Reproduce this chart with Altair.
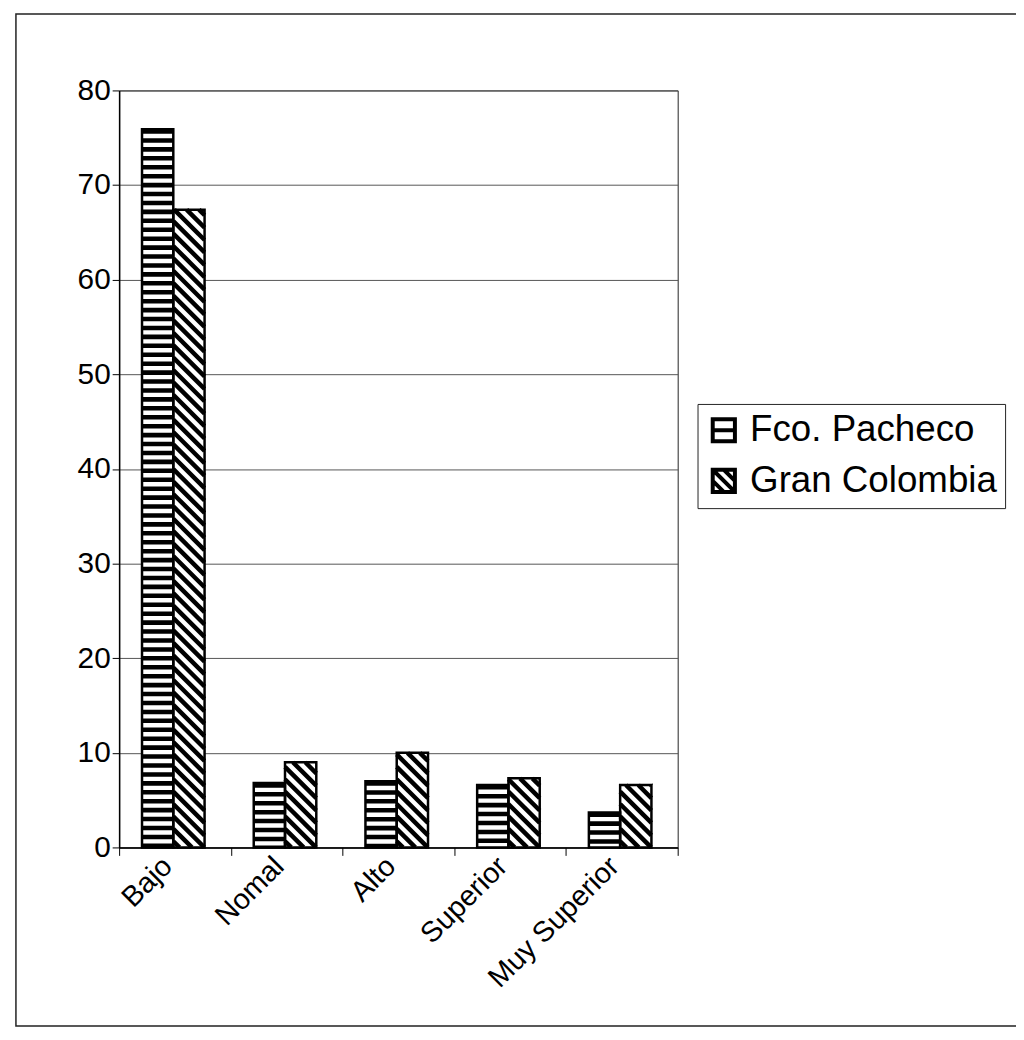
import altair as alt
import pandas as pd

# ---- data ----
categories = ["Bajo", "Nomal", "Alto", "Superior", "Muy Superior"]
fco_pacheco = [75.9, 6.8, 7.0, 6.6, 3.7]
gran_colombia = [67.4, 9.0, 10.0, 7.3, 6.6]
series = ["Fco. Pacheco", "Gran Colombia"]
y_ticks = [0, 10, 20, 30, 40, 50, 60, 70, 80]

# ---- layout constants ----
W, H = 563, 763
YMAX = 80
BAR_START, BAR_W = 0.205, 0.28
PX_X = W / len(categories)
PX_Y = H / YMAX
DIAG_STEP = 12.5
FONT = "Liberation Sans"

# bars table
rows = []
for i, cat in enumerate(categories):
    for k, (name, vals) in enumerate(zip(series, [fco_pacheco, gran_colombia])):
        x0 = i + BAR_START + k * BAR_W
        rows.append({"cat": cat, "series": name, "x0": x0, "x1": x0 + BAR_W,
                     "xc": x0 + BAR_W / 2, "val": vals[i]})
bars_df = pd.DataFrame(rows)

# diagonal hatch segments for the second series (clipped to each bar)
diag = []
for r in rows:
    if r["series"] != series[1]:
        continue
    x0p, x1p, h = r["x0"] * PX_X, r["x1"] * PX_X, r["val"] * PX_Y
    c = x0p + DIAG_STEP / 2
    while c < x1p + h:
        pa = max(x0p, c - h)
        pb = min(x1p, c)
        if pb > pa:
            diag.append({"xa": pa / PX_X, "ya": (c - pa) / PX_Y,
                         "xb": pb / PX_X, "yb": (c - pb) / PX_Y})
        c += DIAG_STEP
diag_df = pd.DataFrame(diag)

xscale = alt.Scale(domain=[0, len(categories)], nice=False, zero=False)
yscale = alt.Scale(domain=[0, YMAX], nice=False)

names = "[" + ",".join("'" + c + "'" for c in categories) + "]"
xaxis = alt.Axis(
    values=[i / 2 for i in range(2 * len(categories) + 1)],
    labelExpr="datum.value % 1 != 0 ? " + names + "[floor(datum.value)] : ''",
    labelAngle=-45, labelAlign="right", labelBaseline="middle",
    labelFontSize=29, labelFont=FONT, labelColor="black", labelPadding=6,
    labelOverlap=False, labelFlush=False, labelBound=False, labelOffset=-8,
    tickSize=8, tickColor="black",
    tickOpacity={"condition": {"test": "datum.value % 1 == 0", "value": 1}, "value": 0},
    domainColor="black", domainWidth=1.5, grid=False, title=None,
)
yaxis = alt.Axis(
    values=y_ticks, labelFontSize=30, labelFont=FONT, labelColor="black",
    labelPadding=2, tickSize=7, tickColor="black", domainColor="black",
    domainWidth=1.5, gridColor="#555", gridWidth=1, title=None,
)

frame = alt.Chart(pd.DataFrame({"a": [0]})).mark_rect(
    fill="transparent", stroke="#222", strokeWidth=1.5
).encode(x=alt.value(-104), x2=alt.value(1000), y=alt.value(-77), y2=alt.value(943))

enc = dict(
    x=alt.X("x0:Q", scale=xscale, axis=xaxis),
    x2="x1:Q",
    y=alt.Y("val:Q", scale=yscale, axis=yaxis),
    y2=alt.datum(0),
)

bg = alt.Chart(bars_df).mark_rect(fill="white").encode(**enc)

stripes = alt.Chart(bars_df).transform_filter(
    alt.datum.series == series[0]
).mark_rule(stroke="black", strokeWidth=BAR_W * PX_X, strokeDash=[4.6, 4.4]).encode(
    x=alt.X("xc:Q", scale=xscale, axis=xaxis),
    y=alt.Y("val:Q", scale=yscale, axis=yaxis),
    y2=alt.datum(0),
)

diags = alt.Chart(diag_df).mark_rule(stroke="black", strokeWidth=4.5).encode(
    x=alt.X("xa:Q", scale=xscale, axis=xaxis),
    y=alt.Y("ya:Q", scale=yscale, axis=yaxis),
    x2="xb:Q",
    y2="yb:Q",
)

outline = alt.Chart(bars_df).mark_rect(
    fill="transparent", stroke="black", strokeWidth=2.5
).encode(**enc)

P_FCO = "M-1,-1H1V1H-1Z M-1,0H1"
P_GRAN = "M-1,-1H1V1H-1Z M-1,-1L1,1 M-1,0L0,1 M0,-1L1,0"

legend_layer = alt.Chart(pd.DataFrame({"series": series})).transform_filter(
    "false"
).mark_point(filled=False, color="black", strokeWidth=4, opacity=1).encode(
    shape=alt.Shape(
        "series:N",
        scale=alt.Scale(domain=series, range=[P_FCO, P_GRAN]),
        legend=alt.Legend(
            title=None, orient="none", legendX=583, legendY=316,
            labelFontSize=37, labelFont=FONT, labelColor="black", labelLimit=500,
            symbolSize=500, symbolStrokeWidth=4, symbolStrokeColor="black",
            strokeColor="#222", padding=8, rowPadding=12, labelOffset=8,
        ),
    )
)

chart = alt.layer(frame, bg, stripes, diags, outline, legend_layer).properties(
    width=W, height=H,
    padding={"left": 112, "top": 79, "right": 341, "bottom": 190},
    autosize=alt.AutoSizeParams(type="none"),
    background="white",
).configure_view(stroke="#222", strokeWidth=1)

chart.save("out.html", embed_options={"renderer": "svg", "actions": False})
